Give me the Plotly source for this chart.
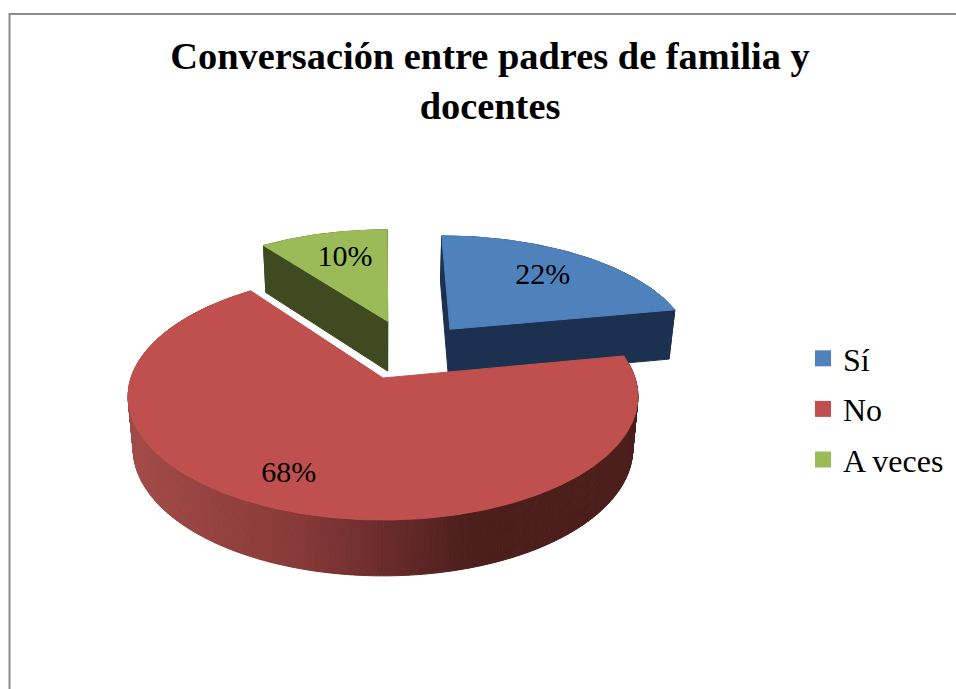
import numpy as np
import plotly.graph_objects as go

# --- data ---
categories = ["Sí", "No", "A veces"]
values = [22, 68, 10]
top_colors = ["#4f81bd", "#c0504d", "#9bbb59"]
wall_colors = ["#1c314f", "#4c1e1c", "#404a21"]

# --- 3D pie projection settings (perspective camera, pixel space) ---
CX, CY, RX, RY, K = 383.0, 378.0, 252.0, 120.7, 0.15
DEPTH, SHRINK = 51.5, 0.98
explode = [(0.283, 0.43), (0.0, 0.0), (0.02, 0.505)]
label_r = [0.695, 0.79, 0.684]
label_turn = [0.0, 3.4, 1.3]
FONT = "Liberation Serif"


def project(X, Y, lower=False):
    X, Y = np.asarray(X, float), np.asarray(Y, float)
    w = 1 + K * Y
    if lower:
        return CX + SHRINK * RX * X / w, CY - RY * Y / w + DEPTH / np.sqrt(w)
    return CX + RX * X / w, CY - RY * Y / w


def poly(px, py, color):
    px, py = list(px), list(py)
    return go.Scatter(x=px + [px[0]], y=py + [py[0]], mode="lines", fill="toself",
                      fillcolor=color, line=dict(color=color, width=1),
                      hoverinfo="skip", showlegend=False)


def red_gradient(x):
    stops_x = [130, 300, 470, 640]
    r = np.interp(x, stops_x, [163, 134, 76, 76])
    g = np.interp(x, stops_x, [75, 57, 30, 30])
    b = np.interp(x, stops_x, [72, 56, 28, 28])
    return f"rgb({r:.0f},{g:.0f},{b:.0f})"


starts = np.cumsum([0] + values[:-1]) / sum(values) * 2 * np.pi
ends = np.cumsum(values) / sum(values) * 2 * np.pi

fig = go.Figure()
# far slices first, the big front slice last
for i in (2, 0, 1):
    ex, ey = explode[i]
    th = np.linspace(starts[i], ends[i], 361 if i == 1 else 81)
    X, Y = ex + np.sin(th), ey + np.cos(th)
    tx, ty = project(X, Y)
    bx, by = project(X, Y, lower=True)
    ax, ay = project([ex], [ey])
    abx, aby = project([ex], [ey], lower=True)
    if i != 1:
        # cut faces and outer wall in one flat shade
        fig.add_trace(poly([ax[0], tx[0], bx[0], abx[0]], [ay[0], ty[0], by[0], aby[0]], wall_colors[i]))
        fig.add_trace(poly([ax[0], tx[-1], bx[-1], abx[0]], [ay[0], ty[-1], by[-1], aby[0]], wall_colors[i]))
        fig.add_trace(poly(list(tx) + list(bx[::-1]), list(ty) + list(by[::-1]), wall_colors[i]))
    else:
        # narrow strips so the shading can vary along the rim
        for j in range(len(th) - 1):
            fig.add_trace(poly([tx[j], tx[j + 1], bx[j + 1], bx[j]],
                               [ty[j], ty[j + 1], by[j + 1], by[j]],
                               red_gradient((tx[j] + tx[j + 1]) / 2)))
    fig.add_trace(poly([ax[0]] + list(tx), [ay[0]] + list(ty), top_colors[i]))

# data labels
for i, v in enumerate(values):
    ex, ey = explode[i]
    mid = (starts[i] + ends[i]) / 2 + np.radians(label_turn[i])
    lx, ly = project([ex + label_r[i] * np.sin(mid)], [ey + label_r[i] * np.cos(mid)])
    fig.add_trace(go.Scatter(x=lx, y=ly, mode="text", text=[f"{v}%"], textposition="middle center",
                             textfont=dict(family=FONT, size=30, color="black"),
                             hoverinfo="skip", showlegend=False))

# legend entries
for c, col in zip(categories, top_colors):
    fig.add_trace(go.Scatter(x=[None], y=[None], mode="markers", name=c, legendgroup=c,
                             marker=dict(symbol="square", size=17, color=col)))

fig.update_layout(
    width=956, height=689, margin=dict(l=0, r=0, t=0, b=0),
    paper_bgcolor="white", plot_bgcolor="white",
    xaxis=dict(range=[0, 956], visible=False, fixedrange=True),
    yaxis=dict(range=[689, 0], visible=False, fixedrange=True),
    title=dict(text="<b>Conversación entre padres de familia y<br>docentes</b>",
               x=490 / 956, xanchor="center", y=1 - 69 / 689, yanchor="middle",
               font=dict(family=FONT, size=38.4, color="black")),
    legend=dict(x=803 / 956, xanchor="left", y=1 - 331 / 689, yanchor="top",
                font=dict(family=FONT, size=32, color="black"), tracegroupgap=6,
                bgcolor="rgba(0,0,0,0)"),
    shapes=[dict(type="path", path="M 9.5 689 L 9.5 14 L 956 14", xref="x", yref="y",
                 line=dict(color="#8c8c8c", width=2))],
)
fig.write_html("out.html", config={"displayModeBar": False},
               post_script="document.body.style.margin='0';")
